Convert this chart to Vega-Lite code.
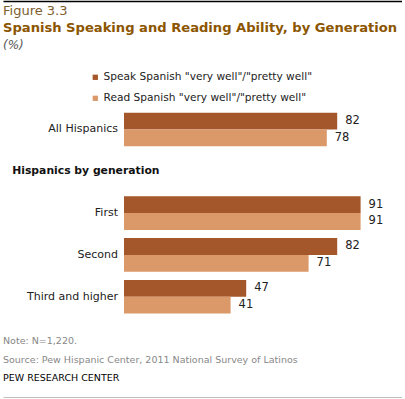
{
  "$schema": "https://vega.github.io/schema/vega-lite/v6.json",
  "padding": {"left": 3, "top": 1, "right": 0, "bottom": 0},
  "spacing": 0,
  "config": {"view": {"stroke": null}, "font": "DejaVu Sans"},
  "datasets": {
    "header": [
      {"role": "figure", "text": "Figure 3.3"},
      {"role": "title", "text": "Spanish Speaking and Reading Ability, by Generation"},
      {"role": "unit", "text": "(%)"}
    ],
    "bars": [
      {"group": "All Hispanics", "measure": "Speak Spanish \"very well\"/\"pretty well\"", "value": 82},
      {"group": "All Hispanics", "measure": "Read Spanish \"very well\"/\"pretty well\"", "value": 78},
      {"group": "First", "measure": "Speak Spanish \"very well\"/\"pretty well\"", "value": 91},
      {"group": "First", "measure": "Read Spanish \"very well\"/\"pretty well\"", "value": 91},
      {"group": "Second", "measure": "Speak Spanish \"very well\"/\"pretty well\"", "value": 82},
      {"group": "Second", "measure": "Read Spanish \"very well\"/\"pretty well\"", "value": 71},
      {"group": "Third and higher", "measure": "Speak Spanish \"very well\"/\"pretty well\"", "value": 47},
      {"group": "Third and higher", "measure": "Read Spanish \"very well\"/\"pretty well\"", "value": 41}
    ],
    "section": [
      {"group": "Hispanics by generation", "text": "Hispanics by generation"}
    ],
    "footer": [
      {"role": "note", "text": "Note: N=1,220."},
      {"role": "source", "text": "Source: Pew Hispanic Center, 2011 National Survey of Latinos"},
      {"role": "pew", "text": "PEW RESEARCH CENTER"}
    ]
  },
  "vconcat": [
    {
      "width": 399,
      "height": 67,
      "data": {"name": "header"},
      "encoding": {
        "x": {"datum": 0, "type": "quantitative", "scale": {"domain": [0, 1], "nice": false},
              "axis": {"orient": "top", "labels": false, "ticks": false, "grid": false, "title": null, "domainColor": "#000000", "domainWidth": 1.5}},
        "y": {"field": "role", "type": "nominal", "axis": null,
              "scale": {"type": "band", "domain": ["figure", "title", "unit"], "paddingInner": 0, "paddingOuter": 0.505, "align": 0.12}},
        "text": {"field": "text"}
      },
      "layer": [
        {"transform": [{"filter": "datum.role === 'figure'"}],
         "mark": {"type": "text", "align": "left", "baseline": "middle", "fontSize": 13, "color": "#7d5e2e"}},
        {"transform": [{"filter": "datum.role === 'title'"}],
         "mark": {"type": "text", "align": "left", "baseline": "middle", "fontSize": 13.1, "fontWeight": "bold", "color": "#8c5500"}},
        {"transform": [{"filter": "datum.role === 'unit'"}],
         "mark": {"type": "text", "align": "left", "baseline": "middle", "fontSize": 12, "fontStyle": "italic", "color": "#555555"}}
      ]
    },
    {
      "width": 381,
      "height": 264,
      "encoding": {
        "y": {"field": "group", "type": "nominal", "axis": null,
              "scale": {"type": "band", "domain": ["All Hispanics", "Hispanics by generation", "First", "Second", "Third and higher"], "paddingInner": 0.196, "paddingOuter": 0.756, "align": 0.707}}
      },
      "layer": [
        {
          "data": {"name": "bars"},
          "mark": {"type": "bar"},
          "encoding": {
            "x": {"field": "value", "type": "quantitative", "stack": null, "axis": null, "scale": {"domain": [-46.54, 100], "nice": false, "zero": false}},
            "yOffset": {"field": "measure", "type": "nominal",
                        "scale": {"domain": ["Speak Spanish \"very well\"/\"pretty well\"", "Read Spanish \"very well\"/\"pretty well\""], "paddingInner": 0, "paddingOuter": 0}},
            "color": {"field": "measure", "type": "nominal",
                      "scale": {"domain": ["Speak Spanish \"very well\"/\"pretty well\"", "Read Spanish \"very well\"/\"pretty well\""], "range": ["#a4572a", "#db996a"]},
                      "legend": {"orient": "none", "legendX": 87, "legendY": 71, "title": null, "symbolType": "square", "symbolSize": 28, "symbolStrokeWidth": 0,
                                 "labelFontSize": 10.6, "labelColor": "#222222", "labelOffset": 3, "rowPadding": 10, "labelLimit": 400, "labelFont": "DejaVu Sans"}}
          }
        },
        {
          "data": {"name": "bars"},
          "mark": {"type": "text", "align": "left", "baseline": "middle", "dx": 8, "fontSize": 11.5, "color": "#222222"},
          "encoding": {
            "x": {"field": "value", "type": "quantitative"},
            "yOffset": {"field": "measure", "type": "nominal"},
            "text": {"field": "value", "type": "quantitative"}
          }
        },
        {
          "data": {"name": "bars"},
          "transform": [{"filter": "indexof(datum.measure, 'Speak') === 0"}],
          "mark": {"type": "text", "align": "right", "baseline": "middle", "dx": -6, "fontSize": 11, "color": "#222222"},
          "encoding": {
            "x": {"datum": 0, "type": "quantitative"},
            "text": {"field": "group", "type": "nominal"}
          }
        },
        {
          "data": {"name": "section"},
          "mark": {"type": "text", "align": "left", "baseline": "middle", "fontSize": 10.8, "fontWeight": "bold", "color": "#111111"},
          "encoding": {
            "x": {"datum": -43, "type": "quantitative"},
            "text": {"field": "text", "type": "nominal"}
          }
        }
      ]
    },
    {
      "width": 399,
      "height": 66,
      "data": {"name": "footer"},
      "encoding": {
        "x": {"datum": 0, "type": "quantitative", "scale": {"domain": [0, 1], "nice": false},
              "axis": {"orient": "bottom", "labels": false, "ticks": false, "grid": false, "title": null, "domainColor": "#000000", "domainWidth": 1.5}},
        "y": {"field": "role", "type": "nominal", "axis": null,
              "scale": {"type": "band", "domain": ["note", "source", "pew"], "paddingInner": 0, "paddingOuter": 0.28, "align": 0}},
        "text": {"field": "text"}
      },
      "layer": [
        {"transform": [{"filter": "datum.role !== 'pew'"}],
         "mark": {"type": "text", "align": "left", "baseline": "middle", "fontSize": 9.5, "color": "#888888"}},
        {"transform": [{"filter": "datum.role === 'pew'"}],
         "mark": {"type": "text", "align": "left", "baseline": "middle", "fontSize": 9.5, "color": "#000000"}}
      ]
    }
  ]
}
